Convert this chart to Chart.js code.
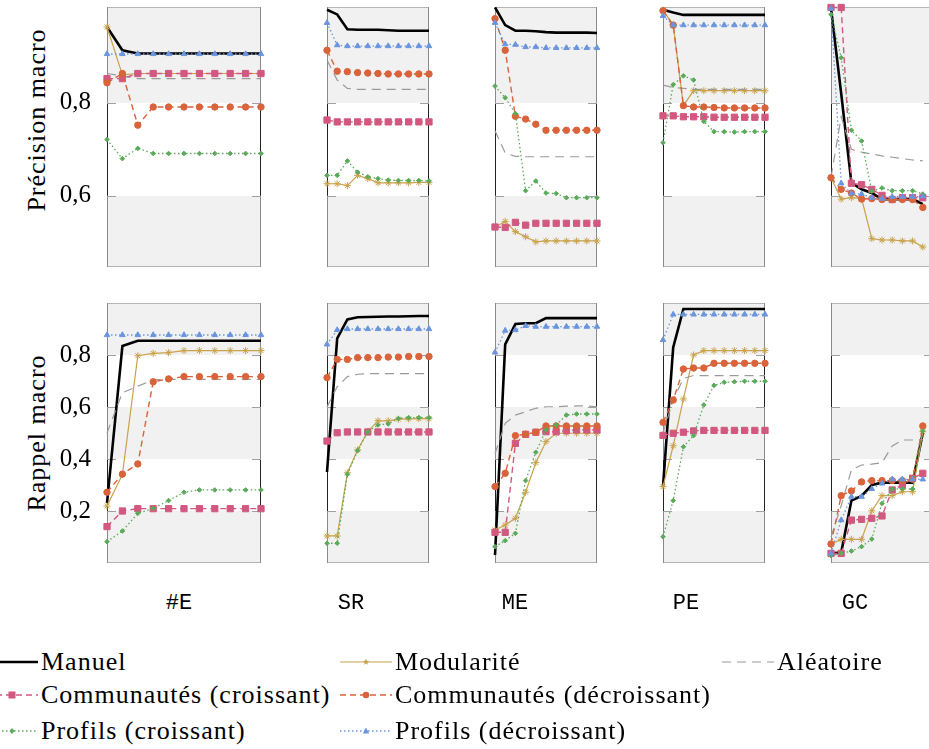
<!DOCTYPE html>
<html>
<head>
<meta charset="utf-8">
<script src="https://cdn.jsdelivr.net/npm/chart.js@4.4.0/dist/chart.umd.min.js"></script>
<style>
  body { margin: 0; width: 929px; height: 749px; overflow: hidden; background: #fff; position: relative; font-family: 'Liberation Serif', 'DejaVu Serif', 'Times New Roman', serif; color: #000; }
  canvas { position: absolute; }
  .ytitle { position: absolute; white-space: nowrap; font-size: 26px; letter-spacing: 1px; transform: translate(-50%, -50%) rotate(-90deg); }
  .col { position: absolute; top: 603px; font-family: 'Liberation Mono', 'DejaVu Sans Mono', monospace; font-size: 22px; transform: translate(-50%, -50%); }
  .leg { position: absolute; height: 34px; display: flex; align-items: center; font-size: 26px; letter-spacing: 1px; white-space: nowrap; }
  .leg svg { margin-right: 3px; }
</style>
</head>
<body>
<div class="ytitle" style="left:37px; top:120px">Précision macro</div>
<div class="ytitle" style="left:37px; top:433px">Rappel macro</div>
<script>
const columns = ['#E', 'SR', 'ME', 'PE', 'GC'];
const seriesNames = ['Manuel', 'Modularité', 'Aléatoire', 'Communautés (croissant)',
  'Communautés (décroissant)', 'Profils (croissant)', 'Profils (décroissant)'];
const precisionTicks = [0.6, 0.8];
const rappelTicks = [0.2, 0.4, 0.6, 0.8];

// précision macro : one list per column (#E, SR, ME, PE, GC)
const precManuel = [
  [0.963, 0.913, 0.906, 0.906, 0.906, 0.906, 0.906, 0.906, 0.906, 0.906, 0.906],
  [1.0, 0.99, 0.958, 0.957, 0.957, 0.957, 0.956, 0.955, 0.955, 0.955, 0.955],
  [1.005, 0.967, 0.955, 0.955, 0.954, 0.952, 0.951, 0.951, 0.951, 0.951, 0.95],
  [1.0, 0.994, 0.989, 0.989, 0.989, 0.989, 0.989, 0.989, 0.989, 0.989, 0.989],
  [1.003, 0.82, 0.628, 0.614, 0.606, 0.593, 0.593, 0.593, 0.593, 0.582]
];
const precModularite = [
  [0.963, 0.86, 0.863, 0.863, 0.863, 0.863, 0.863, 0.863, 0.863, 0.863, 0.863],
  [0.626, 0.626, 0.622, 0.644, 0.637, 0.628, 0.628, 0.628, 0.628, 0.629, 0.629],
  [0.533, 0.545, 0.523, 0.512, 0.501, 0.503, 0.503, 0.503, 0.503, 0.503, 0.503],
  [0.999, 0.968, 0.794, 0.826, 0.826, 0.826, 0.826, 0.826, 0.826, 0.826, 0.826],
  [0.639, 0.593, 0.596, 0.594, 0.508, 0.505, 0.505, 0.503, 0.503, 0.49]
];
const precAleatoire = [
  [0.863, 0.858, 0.852, 0.852, 0.852, 0.852, 0.852, 0.852, 0.852, 0.852, 0.852],
  [0.892, 0.849, 0.831, 0.829, 0.829, 0.829, 0.829, 0.829, 0.829, 0.829, 0.829],
  [0.74, 0.692, 0.685, 0.684, 0.684, 0.684, 0.684, 0.684, 0.684, 0.684, 0.684],
  [0.838, 0.833, 0.831, 0.829, 0.829, 0.829, 0.829, 0.829, 0.829, 0.829, 0.829],
  [0.64, 0.77, 0.7, 0.694, 0.69, 0.686, 0.683, 0.68, 0.677, 0.675]
];
const precCommCroissant = [
  [0.852, 0.852, 0.863, 0.863, 0.863, 0.863, 0.863, 0.863, 0.863, 0.863, 0.863],
  [0.763, 0.759, 0.759, 0.759, 0.759, 0.759, 0.759, 0.759, 0.759, 0.759, 0.759],
  [0.533, 0.532, 0.543, 0.537, 0.541, 0.541, 0.541, 0.541, 0.541, 0.541, 0.541],
  [0.772, 0.772, 0.77, 0.77, 0.77, 0.769, 0.769, 0.769, 0.769, 0.769, 0.769],
  [1.005, 1.005, 0.627, 0.624, 0.614, 0.601, 0.592, 0.596, 0.596, 0.596]
];
const precCommDecroissant = [
  [0.843, 0.863, 0.752, 0.791, 0.791, 0.791, 0.791, 0.791, 0.791, 0.791, 0.791],
  [0.913, 0.868, 0.867, 0.865, 0.864, 0.863, 0.862, 0.862, 0.862, 0.862, 0.862],
  [0.981, 0.913, 0.771, 0.765, 0.754, 0.741, 0.741, 0.741, 0.741, 0.741, 0.741],
  [0.998, 0.967, 0.794, 0.791, 0.791, 0.79, 0.789, 0.789, 0.789, 0.789, 0.789],
  [0.639, 0.614, 0.606, 0.593, 0.594, 0.592, 0.592, 0.592, 0.592, 0.575]
];
const precProfilsCroissant = [
  [0.721, 0.68, 0.702, 0.691, 0.691, 0.691, 0.691, 0.691, 0.691, 0.691, 0.691],
  [0.644, 0.644, 0.675, 0.651, 0.641, 0.637, 0.634, 0.633, 0.633, 0.633, 0.632],
  [0.836, 0.811, 0.777, 0.611, 0.632, 0.606, 0.605, 0.596, 0.596, 0.596, 0.596],
  [0.714, 0.839, 0.858, 0.849, 0.76, 0.738, 0.738, 0.737, 0.738, 0.738, 0.738],
  [0.99, 0.897, 0.741, 0.718, 0.61, 0.617, 0.611, 0.611, 0.611, 0.604]
];
const precProfilsDecroissant = [
  [0.905, 0.905, 0.905, 0.905, 0.905, 0.905, 0.905, 0.905, 0.905, 0.905, 0.905],
  [0.972, 0.924, 0.922, 0.922, 0.922, 0.922, 0.922, 0.922, 0.922, 0.922, 0.922],
  [0.972, 0.926, 0.925, 0.92, 0.92, 0.918, 0.918, 0.918, 0.918, 0.918, 0.918],
  [0.987, 0.967, 0.967, 0.967, 0.967, 0.967, 0.967, 0.967, 0.967, 0.967, 0.967],
  [1.003, 0.627, 0.605, 0.604, 0.596, 0.594, 0.598, 0.598, 0.598, 0.599]
];

// rappel macro
const rapManuel = [
  [0.23, 0.835, 0.855, 0.855, 0.855, 0.855, 0.855, 0.855, 0.855, 0.855, 0.855],
  [0.35, 0.864, 0.937, 0.945, 0.946, 0.947, 0.948, 0.948, 0.949, 0.95, 0.95],
  [0.031, 0.841, 0.919, 0.922, 0.922, 0.942, 0.942, 0.942, 0.942, 0.942, 0.942],
  [0.294, 0.829, 0.977, 0.977, 0.977, 0.977, 0.977, 0.977, 0.977, 0.977, 0.977],
  [0.037, 0.04, 0.24, 0.258, 0.3, 0.309, 0.309, 0.309, 0.309, 0.5]
];
const rapModularite = [
  [0.219, 0.34, 0.797, 0.806, 0.809, 0.817, 0.817, 0.817, 0.817, 0.817, 0.817],
  [0.104, 0.104, 0.347, 0.435, 0.505, 0.547, 0.547, 0.553, 0.554, 0.555, 0.555],
  [0.127, 0.146, 0.172, 0.272, 0.386, 0.467, 0.499, 0.499, 0.499, 0.499, 0.499],
  [0.294, 0.451, 0.631, 0.8, 0.817, 0.817, 0.817, 0.817, 0.817, 0.817, 0.817],
  [0.073, 0.091, 0.091, 0.091, 0.201, 0.259, 0.259, 0.274, 0.274, 0.505]
];
const rapAleatoire = [
  [0.5, 0.655, 0.68, 0.704, 0.706, 0.706, 0.706, 0.706, 0.706, 0.706, 0.706],
  [0.6, 0.678, 0.717, 0.726, 0.728, 0.728, 0.728, 0.728, 0.728, 0.728, 0.728],
  [0.42, 0.537, 0.569, 0.582, 0.595, 0.601, 0.601, 0.603, 0.604, 0.604, 0.601],
  [0.5, 0.627, 0.71, 0.721, 0.721, 0.721, 0.721, 0.721, 0.721, 0.721, 0.721],
  [0.1, 0.22, 0.358, 0.377, 0.38, 0.386, 0.45, 0.473, 0.473, 0.475]
];
const rapCommCroissant = [
  [0.14, 0.2, 0.209, 0.209, 0.209, 0.209, 0.209, 0.209, 0.209, 0.209, 0.209],
  [0.469, 0.501, 0.504, 0.504, 0.504, 0.504, 0.504, 0.504, 0.504, 0.504, 0.504],
  [0.118, 0.118, 0.46, 0.495, 0.503, 0.505, 0.505, 0.509, 0.512, 0.512, 0.512],
  [0.491, 0.499, 0.503, 0.508, 0.51, 0.51, 0.51, 0.51, 0.51, 0.51, 0.51],
  [0.037, 0.037, 0.165, 0.168, 0.172, 0.181, 0.281, 0.3, 0.326, 0.345]
];
const rapCommDecroissant = [
  [0.272, 0.342, 0.381, 0.697, 0.708, 0.717, 0.717, 0.717, 0.717, 0.717, 0.717],
  [0.713, 0.783, 0.783, 0.79, 0.79, 0.79, 0.792, 0.792, 0.794, 0.794, 0.794],
  [0.294, 0.345, 0.49, 0.495, 0.503, 0.527, 0.527, 0.527, 0.527, 0.527, 0.527],
  [0.541, 0.627, 0.746, 0.75, 0.75, 0.768, 0.768, 0.768, 0.768, 0.768, 0.768],
  [0.073, 0.259, 0.277, 0.312, 0.317, 0.317, 0.317, 0.317, 0.322, 0.527]
];
const rapProfilsCroissant = [
  [0.082, 0.123, 0.191, 0.21, 0.24, 0.272, 0.281, 0.281, 0.281, 0.281, 0.281],
  [0.076, 0.076, 0.341, 0.432, 0.505, 0.531, 0.535, 0.556, 0.559, 0.559, 0.559],
  [0.063, 0.086, 0.114, 0.317, 0.426, 0.512, 0.531, 0.569, 0.573, 0.573, 0.573],
  [0.101, 0.24, 0.447, 0.49, 0.608, 0.683, 0.695, 0.697, 0.699, 0.699, 0.699],
  [0.028, 0.037, 0.046, 0.063, 0.092, 0.229, 0.285, 0.285, 0.285, 0.508]
];
const rapProfilsDecroissant = [
  [0.877, 0.877, 0.877, 0.877, 0.877, 0.877, 0.877, 0.877, 0.877, 0.877, 0.877],
  [0.841, 0.896, 0.9, 0.9, 0.9, 0.9, 0.9, 0.9, 0.9, 0.9, 0.9],
  [0.81, 0.894, 0.896, 0.912, 0.909, 0.909, 0.909, 0.909, 0.909, 0.909, 0.909],
  [0.858, 0.956, 0.956, 0.956, 0.956, 0.956, 0.956, 0.956, 0.956, 0.956, 0.956],
  [0.037, 0.165, 0.255, 0.255, 0.285, 0.306, 0.322, 0.322, 0.322, 0.322]
];

const precision = [precManuel, precModularite, precAleatoire, precCommCroissant,
  precCommDecroissant, precProfilsCroissant, precProfilsDecroissant];
const rappel = [rapManuel, rapModularite, rapAleatoire, rapCommCroissant,
  rapCommDecroissant, rapProfilsCroissant, rapProfilsDecroissant];

// line styles, same order as seriesNames
const styles = [
  { color: '#000000', width: 2.6, dash: [], point: false, radius: 0 },
  { color: '#c9a24a', width: 1.2, dash: [], point: 'star', radius: 3.5 },
  { color: '#9a9a9a', width: 1.2, dash: [9, 6], point: false, radius: 0 },
  { color: '#d2587f', width: 1.4, dash: [6, 4], point: 'rect', radius: 4.4 },
  { color: '#d9633a', width: 1.4, dash: [6, 4], point: 'circle', radius: 3.2 },
  { color: '#5aaa5a', width: 1.3, dash: [1.5, 2.5], point: 'rectRot', radius: 2.3 },
  { color: '#6a95dd', width: 1.3, dash: [1.5, 2.5], point: 'triangle', radius: 3.2 }
];

const serifFont = "'Liberation Serif', 'DejaVu Serif', 'Times New Roman', serif";
const colLefts = [107, 275, 443, 611, 779];
const panelW = 154;
const rows = [
  { data: precision, top: 7, h: 260, min: 0.447, max: 1.006, ticks: precisionTicks, bands: [[0.4, 0.6], [0.8, 1.1]] },
  { data: rappel, top: 303, h: 260, min: 0, max: 1.0, ticks: rappelTicks, bands: [[0, 0.2], [0.4, 0.6], [0.8, 1.1]] }
];
const PAD = 10;
const AXW = 52;

const bandPlugin = {
  id: 'bands',
  beforeDatasetsDraw(chart, args, opts) {
    const { ctx, chartArea: a, scales: { y } } = chart;
    ctx.save();
    ctx.fillStyle = '#f1f1f1';
    opts.bands.forEach(b => {
      const t = y.getPixelForValue(Math.min(b[1], y.max));
      const bt = y.getPixelForValue(Math.max(b[0], y.min));
      ctx.fillRect(a.left, t, a.right - a.left, bt - t);
    });
    // frame : light on top / bottom, darker on the sides where the band is white
    ctx.lineWidth = 1;
    ctx.strokeStyle = '#b4b4b4';
    ctx.beginPath();
    ctx.moveTo(a.left, a.top + 0.5); ctx.lineTo(a.right, a.top + 0.5);
    ctx.moveTo(a.left, a.bottom - 0.5); ctx.lineTo(a.right, a.bottom - 0.5);
    ctx.stroke();
    const edges = [y.min].concat(opts.ticks, [y.max]);
    for (let i = 0; i < edges.length - 1; i++) {
      const y0 = y.getPixelForValue(edges[i]);
      const y1 = y.getPixelForValue(edges[i + 1]);
      const inBand = opts.bands.some(b => edges[i] >= b[0] - 1e-9 && edges[i + 1] <= b[1] + 1e-9);
      ctx.strokeStyle = inBand ? '#8a8a8a' : '#222';
      ctx.beginPath();
      ctx.moveTo(a.left + 0.5, y0); ctx.lineTo(a.left + 0.5, y1);
      ctx.moveTo(a.right - 0.5, y0); ctx.lineTo(a.right - 0.5, y1);
      ctx.stroke();
    }
    ctx.strokeStyle = '#a0a0a0';
    ctx.beginPath();
    opts.ticks.forEach(v => {
      const py = Math.round(y.getPixelForValue(v)) + 0.5;
      ctx.moveTo(a.left, py); ctx.lineTo(a.left + 9, py);
      ctx.moveTo(a.right - 9, py); ctx.lineTo(a.right, py);
    });
    ctx.stroke();
    ctx.restore();
  }
};

function makePanel(r, c) {
  const row = rows[r];
  const isLeft = c === 0;
  const canvas = document.createElement('canvas');
  const w = panelW + 2 * PAD + (isLeft ? AXW : 0);
  const h = row.h + 2 * PAD;
  canvas.width = w;
  canvas.height = h;
  canvas.style.left = (colLefts[c] - PAD - (isLeft ? AXW : 0)) + 'px';
  canvas.style.top = (row.top - PAD) + 'px';
  document.body.appendChild(canvas);

  const datasets = seriesNames.map((name, i) => {
    const st = styles[i];
    return {
      label: name,
      data: row.data[i][c].map((v, k) => ({ x: k, y: v })),
      borderColor: st.color,
      backgroundColor: st.color,
      borderWidth: st.width,
      borderDash: st.dash,
      pointStyle: st.point,
      pointRadius: st.radius,
      pointBorderWidth: 1,
      pointBackgroundColor: st.color,
      pointBorderColor: st.color,
      tension: 0,
      clip: false,
      order: seriesNames.length - i
    };
  });

  new Chart(canvas, {
    type: 'line',
    data: { datasets: datasets },
    options: {
      responsive: false,
      animation: false,
      events: [],
      layout: { padding: PAD },
      plugins: {
        legend: { display: false },
        tooltip: { enabled: false },
        bands: { bands: row.bands, ticks: row.ticks }
      },
      scales: {
        x: { type: 'linear', min: 0, max: 10, display: false },
        y: {
          min: row.min,
          max: row.max,
          display: isLeft,
          grid: { display: false, drawTicks: false },
          border: { display: false },
          ticks: {
            padding: 16,
            color: '#000',
            font: { family: serifFont, size: 25 },
            callback: v => v.toFixed(1).replace('.', ',')
          },
          afterBuildTicks: s => { s.ticks = row.ticks.map(v => ({ value: v })); },
          afterFit: s => {
            s.width = AXW;
            s.paddingTop = 0;
            s.paddingBottom = 0;
          }
        }
      }
    },
    plugins: [bandPlugin]
  });
}

for (let r = 0; r < rows.length; r++) {
  for (let c = 0; c < columns.length; c++) makePanel(r, c);
}

// column names under the panels
const colCenters = [179, 351, 515, 686, 855];
columns.forEach((name, c) => {
  const d = document.createElement('div');
  d.className = 'col';
  d.style.left = colCenters[c] + 'px';
  d.textContent = name;
  document.body.appendChild(d);
});

// legend
function markerSvg(st, cx, cy) {
  const col = st.color;
  if (st.point === 'rect') return `<rect x="${cx - 3.5}" y="${cy - 3.5}" width="7" height="7" fill="${col}"/>`;
  if (st.point === 'circle') return `<circle cx="${cx}" cy="${cy}" r="3.3" fill="${col}"/>`;
  if (st.point === 'rectRot') return `<polygon points="${cx},${cy - 3} ${cx + 2.5},${cy} ${cx},${cy + 3} ${cx - 2.5},${cy}" fill="${col}"/>`;
  if (st.point === 'triangle') return `<polygon points="${cx},${cy - 3.5} ${cx + 3.2},${cy + 2.5} ${cx - 3.2},${cy + 2.5}" fill="${col}"/>`;
  if (st.point === 'star') {
    let p = [];
    for (let k = 0; k < 10; k++) {
      const rr = k % 2 ? 1.4 : 3.4;
      const ang = -Math.PI / 2 + k * Math.PI / 5;
      p.push((cx + rr * Math.cos(ang)).toFixed(2) + ',' + (cy + rr * Math.sin(ang)).toFixed(2));
    }
    return `<polygon points="${p.join(' ')}" fill="${col}"/>`;
  }
  return '';
}
const legendPos = [
  { sx: -14, y: 662 }, { sx: 340, y: 662 }, { sx: 722, y: 662 },
  { sx: -14, y: 695 }, { sx: 340, y: 695 },
  { sx: -14, y: 731 }, { sx: 340, y: 731 }
];
seriesNames.forEach((name, i) => {
  const st = styles[i];
  const pos = legendPos[i];
  const d = document.createElement('div');
  d.className = 'leg';
  d.style.left = pos.sx + 'px';
  d.style.top = (pos.y - 17) + 'px';
  const dash = st.dash.length ? `stroke-dasharray="${st.dash.join(' ')}"` : '';
  d.innerHTML = `<svg width="52" height="20"><line x1="0" y1="10" x2="52" y2="10" stroke="${st.color}" stroke-width="${st.width}" ${dash}/>${markerSvg(st, 26, 10)}</svg><span>${name}</span>`;
  document.body.appendChild(d);
});
</script>
</body>
</html>
